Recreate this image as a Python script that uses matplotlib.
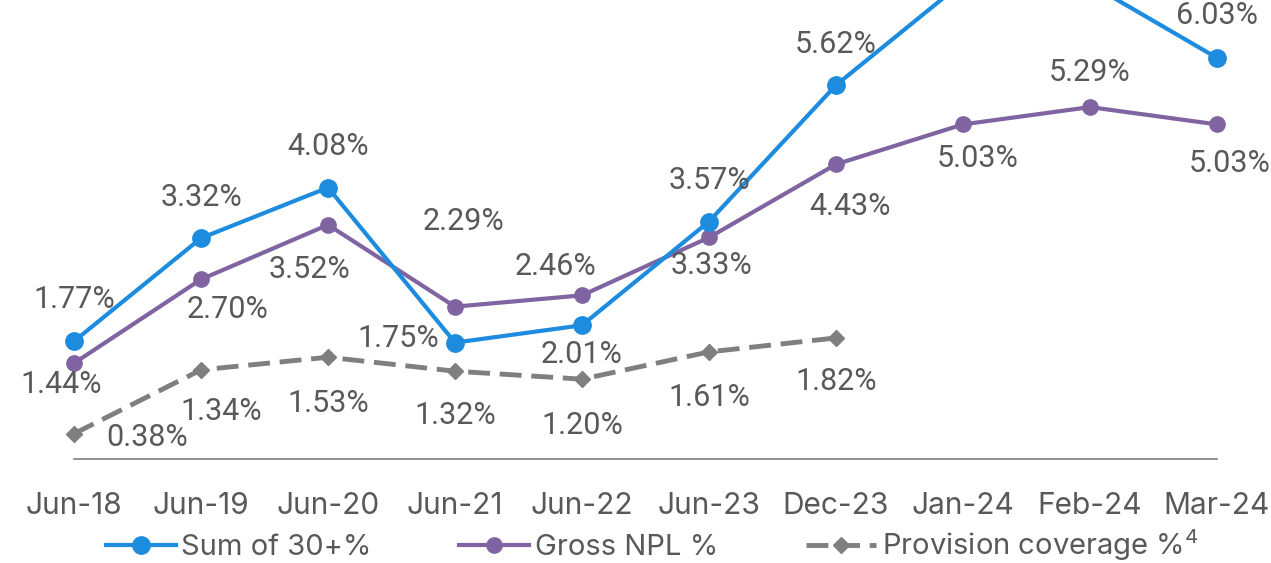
import matplotlib
matplotlib.use("Agg")
import matplotlib.pyplot as plt
import numpy as np

# chart data
periods = ['Jun-18', 'Jun-19', 'Jun-20', 'Jun-21', 'Jun-22', 'Jun-23',
           'Dec-23', 'Jan-24', 'Feb-24', 'Mar-24']
sum_30 = [1.77, 3.32, 4.08, 1.75, 2.01, 3.57, 5.62, 7.17, 7.14, 6.03]
gross_npl = [1.44, 2.70, 3.52, 2.29, 2.46, 3.33, 4.43, 5.03, 5.29, 5.03]
provision = [0.38, 1.34, 1.53, 1.32, 1.20, 1.61, 1.82]

# label offsets in pixels (dx, dy), dy positive = up
sum_30_off = [(0, 42), (0, 41), (0, 41), (-57, 4), (0, -29), (0, 41), (0, 41), None, None, (0, 42)]
npl_off = [(-13, -21), (27, -30), (-18, -45), (8, 85), (-27, 29), (2, -28),
           (14, -42), (15, -34), (0, 35), (13, -39)]
prov_off = [(73, -4), (20, -42), (0, -46), (0, -44), (0, -46), (0, -46), (0, -44)]

BLUE = '#1E8CDE'
PURPLE = '#8064A2'
GREY = '#7F7F7F'
TEXT = '#595959'

plt.rcParams['font.family'] = ['Inter', 'DejaVu Sans']
plt.rcParams['mathtext.fontset'] = 'custom'
plt.rcParams['mathtext.rm'] = 'Inter'

DPI = 100
fig = plt.figure(figsize=(12.71, 5.63), dpi=DPI)
ax = fig.add_axes([74 / 1271, (563 - 459) / 563, (1217 - 74) / 1271, 459 / 563])

x = np.arange(len(periods))
ax.plot(x, sum_30, color=BLUE, lw=3, marker='o', ms=12.5, label='Sum of 30+%',
        solid_joinstyle='round', zorder=4, clip_on=False)
ax.plot(x, gross_npl, color=PURPLE, lw=3, marker='o', ms=11, label='Gross NPL %',
        solid_joinstyle='round', zorder=3, clip_on=False)
ax.plot(x[:len(provision)], provision, color=GREY, lw=3.5, ls=(0, (4.5, 2)),
        marker='D', ms=8.5, label='Provision coverage %$^{4}$', zorder=2, clip_on=False)

px = 72 / DPI  # pixels -> points


def label_series(vals, offs):
    for i, (v, o) in enumerate(zip(vals, offs)):
        if o is None:
            continue
        ax.annotate(f'{v:.2f}%', (x[i], v), xytext=(o[0] * px, o[1] * px),
                    textcoords='offset points', ha='center', va='center',
                    fontsize=22, color=TEXT, family=['Roboto', 'DejaVu Sans'],
                    annotation_clip=False, zorder=6)


label_series(sum_30, sum_30_off)
label_series(gross_npl, npl_off)
label_series(provision, prov_off)

ax.set_xlim(0, 9)
ax.set_ylim(0, 6.90)
ax.set_xticks(x)
ax.set_xticklabels(periods, fontsize=21.5, color=TEXT)
ax.tick_params(axis='x', length=0, pad=24)
ax.set_yticks([])
for s in ['top', 'left', 'right']:
    ax.spines[s].set_visible(False)
ax.spines['bottom'].set_color('#7F7F7F')
ax.spines['bottom'].set_linewidth(1.2)

leg = fig.legend(loc='center', bbox_to_anchor=(652 / 1271, (563 - 545) / 563), ncol=3,
                 frameon=False, fontsize=21, handlelength=2.4, handletextpad=0.2,
                 columnspacing=3.0, labelcolor=TEXT, borderpad=0.1)

fig.savefig('out.png', dpi=DPI)
